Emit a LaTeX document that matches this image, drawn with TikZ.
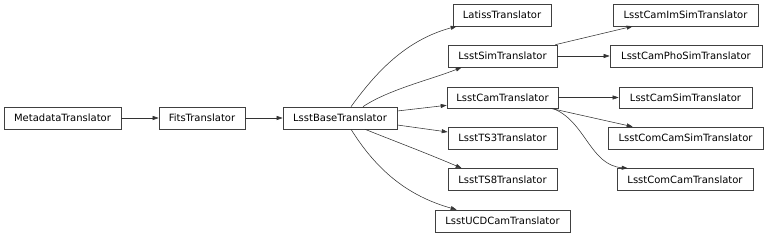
\documentclass[tikz,border=0pt]{standalone}
\usepackage{fontspec}
\setmainfont{DejaVu Sans}
\usetikzlibrary{arrows.meta}
\begin{document}
\begin{tikzpicture}[x=1pt,y=-1pt,
  cls/.style={draw=black!75,line width=0.6pt,inner sep=0pt,minimum height=22pt,font=\fontsize{10}{12}\selectfont,text=black},
  edge/.style={draw=black!80,line width=0.55pt,-{Triangle[length=6pt,width=4pt]}}]
\useasboundingbox (0,0) rectangle (768,237);
\node[cls,minimum width=117pt] (meta) at (62.5,118) {MetadataTranslator};
\node[cls,minimum width=86pt] (fits) at (202,118) {FitsTranslator};
\node[cls,minimum width=114pt] (base) at (340,118) {LsstBaseTranslator};
\node[cls,minimum width=98pt] (lat) at (502,15) {LatissTranslator};
\node[cls,minimum width=109pt] (sim) at (502.5,56) {LsstSimTranslator};
\node[cls,minimum width=111pt,minimum height=21pt] (cam) at (502.5,97.5) {LsstCamTranslator};
\node[cls,minimum width=109pt] (ts3) at (502.5,138) {LsstTS3Translator};
\node[cls,minimum width=109pt] (ts8) at (502.5,179.5) {LsstTS8Translator};
\node[cls,minimum width=135pt] (ucd) at (502.5,221) {LsstUCDCamTranslator};
\node[cls,minimum width=145pt] (imsim) at (685.5,15) {LsstCamImSimTranslator};
\node[cls,minimum width=152pt] (pho) at (686,56) {LsstCamPhoSimTranslator};
\node[cls,minimum width=133pt,minimum height=21pt] (camsim) at (685.5,97.5) {LsstCamSimTranslator};
\node[cls,minimum width=155pt] (ccsim) at (685.5,138) {LsstComCamSimTranslator};
\node[cls,minimum width=136pt] (cc) at (685,179.5) {LsstComCamTranslator};

\draw[edge] (meta.east) -- (fits.west);
\draw[edge] (fits.east) -- (base.west);
\draw[edge] ([xshift=11pt]base.north) .. controls +(24,-33) and +(-52,14) .. ([xshift=4pt]lat.south west);
\draw[edge] ([xshift=23pt]base.north) .. controls +(25,-17) and +(-30,12) .. ([xshift=14pt]sim.south west);
\draw[edge] ([yshift=7pt]base.east) -- ([yshift=3pt]cam.south west);
\draw[edge] ([yshift=-7pt]base.east) -- ([yshift=6pt]ts3.west);
\draw[edge] ([xshift=25pt]base.south) .. controls +(30,12) and +(-35,-15) .. ([xshift=14pt]ts8.north west);
\draw[edge] ([xshift=11pt]base.south) .. controls +(25,40) and +(-50,-14) .. ([xshift=22pt]ucd.north west);
\draw[edge] ([xshift=-2pt]sim.north east) -- ([xshift=20pt]imsim.south west);
\draw[edge] (sim.east) -- (pho.west);
\draw[edge] (cam.east) -- (camsim.west);
\draw[edge] ([xshift=-8pt]cam.south east) -- ([xshift=25pt]ccsim.north west);
\draw[edge] ([xshift=-6pt]cam.south east) .. controls +(33,12) and +(-38,-3) .. ([xshift=11pt]cc.north west);
\end{tikzpicture}
\end{document}
